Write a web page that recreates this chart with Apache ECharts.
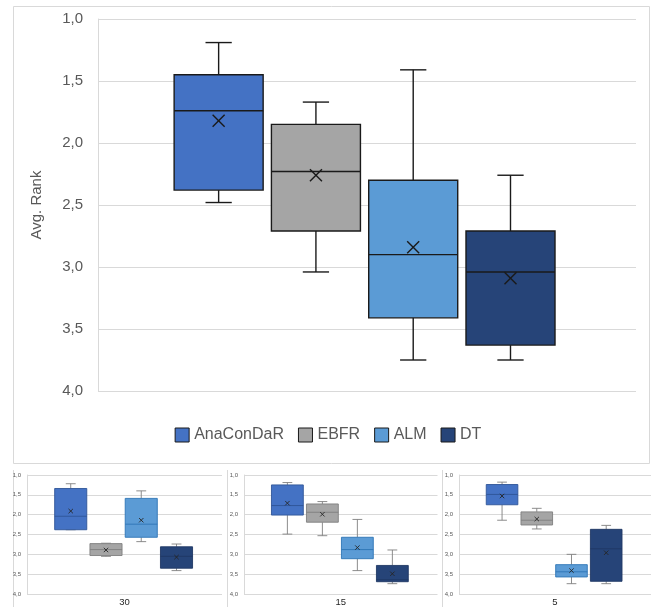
<!DOCTYPE html>
<html>
<head>
<meta charset="utf-8">
<script src="https://cdn.jsdelivr.net/npm/echarts@6/dist/echarts.min.js"></script>
<style>
  html, body { margin: 0; padding: 0; background: #fff; }
  #chart { width: 656px; height: 607px; }
</style>
</head>
<body>
<div id="chart"></div>
<script>
let algorithms = ['AnaConDaR', 'EBFR', 'ALM', 'DT'];
let colors = ['#4472C4', '#A5A5A5', '#5B9BD5', '#264478'];
let smallBorders = ['#2F5597', '#7F7F7F', '#2E75B6', '#1F3864'];

// each row: [min, q1, median, q3, max, mean]
let mainStats = [
    [1.19, 1.45, 1.74, 2.38, 2.48, 1.82],
    [1.67, 1.85, 2.23, 2.71, 3.04, 2.26],
    [1.41, 2.30, 2.90, 3.41, 3.75, 2.84],
    [2.26, 2.71, 3.04, 3.63, 3.75, 3.09]
];
let stats30 = [
    [1.22, 1.34, 2.04, 2.38, 2.38, 1.91],
    [2.72, 2.73, 2.88, 3.03, 3.05, 2.89],
    [1.40, 1.59, 2.24, 2.57, 2.68, 2.14],
    [2.74, 2.81, 3.05, 3.35, 3.41, 3.07]
];
let stats15 = [
    [1.19, 1.25, 1.77, 2.01, 2.49, 1.71],
    [1.67, 1.73, 1.94, 2.19, 2.53, 1.99],
    [2.12, 2.57, 2.88, 3.11, 3.41, 2.83],
    [2.89, 3.28, 3.64, 3.69, 3.74, 3.49]
];
let stats5 = [
    [1.18, 1.24, 1.49, 1.75, 2.14, 1.53],
    [1.84, 1.93, 2.14, 2.26, 2.36, 2.11],
    [3.00, 3.26, 3.44, 3.57, 3.74, 3.41],
    [2.27, 2.37, 2.86, 3.68, 3.74, 2.96]
];
let panelLabels = ['30', '15', '5'];

function rankLabel(v) {
    return v.toFixed(1).replace('.', ',');
}

// draws one box with whiskers, median and mean cross
function boxRenderer(look) {
    return function (params, api) {
        let x = api.value(0);
        let yOf = function (v) { return api.coord([x, v])[1]; };
        let cx = api.coord([x, api.value(3)])[0];
        let half = api.size([look.boxW, 0])[0] / 2;
        let capHalf = api.size([look.capW, 0])[0] / 2;
        let yMin = yOf(api.value(1)), yQ1 = yOf(api.value(2)), yMed = yOf(api.value(3));
        let yQ3 = yOf(api.value(4)), yMax = yOf(api.value(5)), yMean = yOf(api.value(6));
        let ws = { stroke: look.whisker, lineWidth: look.lw };
        let m = look.cross;
        return {
            type: 'group',
            children: [
                { type: 'line', shape: { x1: cx, y1: yMin, x2: cx, y2: yQ1 }, style: ws },
                { type: 'line', shape: { x1: cx, y1: yQ3, x2: cx, y2: yMax }, style: ws },
                { type: 'line', shape: { x1: cx - capHalf, y1: yMin, x2: cx + capHalf, y2: yMin }, style: ws },
                { type: 'line', shape: { x1: cx - capHalf, y1: yMax, x2: cx + capHalf, y2: yMax }, style: ws },
                {
                    type: 'rect',
                    shape: { x: cx - half, y: Math.min(yQ1, yQ3), width: half * 2, height: Math.abs(yQ3 - yQ1) },
                    style: { fill: api.visual('color'), stroke: look.border[params.seriesIndex % 4], lineWidth: look.lw }
                },
                { type: 'line', shape: { x1: cx - half, y1: yMed, x2: cx + half, y2: yMed }, style: { stroke: look.border[params.seriesIndex % 4], lineWidth: look.lw } },
                { type: 'line', shape: { x1: cx - m, y1: yMean - m, x2: cx + m, y2: yMean + m }, style: { stroke: look.crossColor, lineWidth: look.lw } },
                { type: 'line', shape: { x1: cx - m, y1: yMean + m, x2: cx + m, y2: yMean - m }, style: { stroke: look.crossColor, lineWidth: look.lw } }
            ]
        };
    };
}

let mainLook = {
    boxW: 0.915, capW: 0.27, lw: 1.4, cross: 6,
    whisker: '#1a1a1a', crossColor: '#1a1a1a',
    border: ['#1a1a1a', '#1a1a1a', '#1a1a1a', '#1a1a1a']
};
let smallLook = {
    boxW: 0.91, capW: 0.28, lw: 0.9, cross: 2.2,
    whisker: '#7f7f7f', crossColor: '#262626',
    border: smallBorders
};

let grids = [
    { left: 98, top: 19, width: 538, height: 372 },
    { left: 27, top: 475, width: 195, height: 119.3 },
    { left: 244, top: 475, width: 193.5, height: 119.3 },
    { left: 459, top: 475, width: 192, height: 119.3 }
];

let xAxes = [];
let yAxes = [];
let series = [];
let allStats = [mainStats, stats30, stats15, stats5];

for (let g = 0; g < grids.length; g++) {
    let small = g > 0;
    xAxes.push({
        type: 'value', gridIndex: g, min: -1.24, max: 4.29, show: false
    });
    yAxes.push({
        type: 'value', gridIndex: g, min: 1, max: 4, interval: 0.5, inverse: true,
        name: small ? '' : 'Avg. Rank',
        nameLocation: 'middle',
        nameGap: 54,
        nameTextStyle: { color: '#595959', fontSize: 15, fontFamily: 'Liberation Sans' },
        axisLine: { show: true, onZero: false, lineStyle: { color: '#d9d9d9', width: 1 } },
        axisTick: { show: false },
        axisLabel: {
            formatter: rankLabel,
            color: '#595959',
            fontSize: small ? 6 : 15,
            margin: small ? 6 : 15,
            fontFamily: 'Liberation Sans'
        },
        splitLine: { show: true, lineStyle: { color: '#d9d9d9', width: 1 } }
    });
    for (let i = 0; i < algorithms.length; i++) {
        let s = allStats[g][i];
        series.push({
            type: 'custom',
            name: algorithms[i],
            xAxisIndex: g,
            yAxisIndex: g,
            itemStyle: { color: colors[i] },
            renderItem: boxRenderer(small ? smallLook : mainLook),
            encode: { x: 0, y: [1, 2, 3, 4, 5, 6] },
            data: [[i, s[0], s[1], s[2], s[3], s[4], s[5]]]
        });
    }
}

// panel captions under the small charts
for (let p = 0; p < panelLabels.length; p++) {
    xAxes.push({
        type: 'category', gridIndex: p + 1, position: 'bottom',
        data: [panelLabels[p]],
        axisLine: { show: false }, axisTick: { show: false }, splitLine: { show: false },
        axisLabel: { color: '#262626', fontSize: 9.5, margin: 3, fontFamily: 'Liberation Sans' }
    });
}

let option = {
    animation: false,
    backgroundColor: '#ffffff',
    graphic: [
        { type: 'rect', z: -10, shape: { x: 13.5, y: 6.5, width: 636, height: 457 }, style: { fill: 'none', stroke: '#d9d9d9', lineWidth: 1 } },
        { type: 'line', z: -10, shape: { x1: 13.5, y1: 470, x2: 13.5, y2: 607 }, style: { stroke: '#d9d9d9', lineWidth: 1 } },
        { type: 'line', z: -10, shape: { x1: 227.5, y1: 470, x2: 227.5, y2: 607 }, style: { stroke: '#d9d9d9', lineWidth: 1 } },
        { type: 'line', z: -10, shape: { x1: 442.5, y1: 470, x2: 442.5, y2: 607 }, style: { stroke: '#d9d9d9', lineWidth: 1 } }
    ],
    legend: {
        data: algorithms.map(function (name, i) {
            return { name: name, icon: 'rect', itemStyle: { color: colors[i], borderColor: '#1a1a1a', borderWidth: 1 } };
        }),
        left: 'center',
        top: 422,
        itemWidth: 14,
        itemHeight: 14,
        itemGap: 14,
        selectedMode: false,
        textStyle: { color: '#595959', fontSize: 16, fontFamily: 'Liberation Sans' }
    },
    grid: grids,
    xAxis: xAxes,
    yAxis: yAxes,
    series: series
};

let chart = echarts.init(document.getElementById('chart'));
chart.setOption(option);
</script>
</body>
</html>
